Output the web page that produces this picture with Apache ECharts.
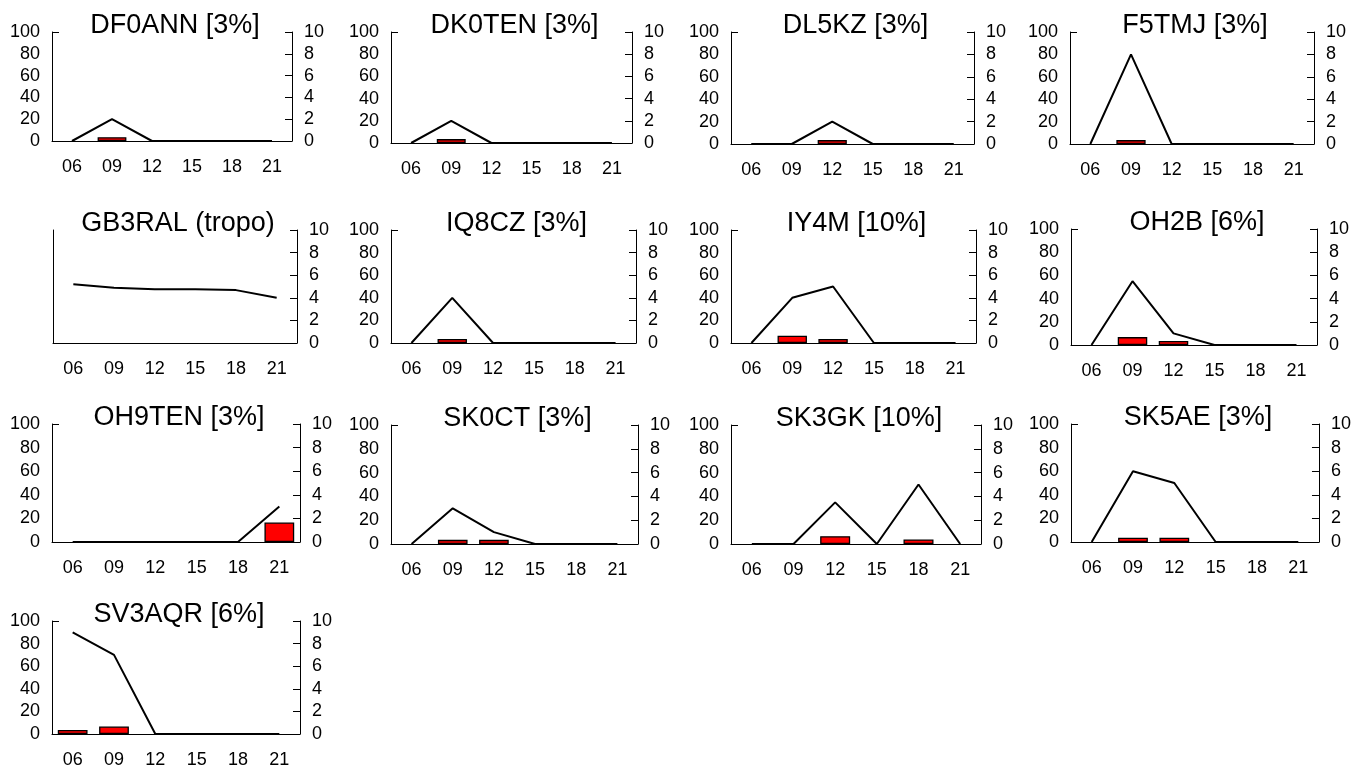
<!DOCTYPE html>
<html>
<head>
<meta charset="utf-8">
<script src="https://cdn.jsdelivr.net/npm/echarts@6/dist/echarts.min.js"></script>
<style>
html,body{margin:0;padding:0;background:#fff;}
#chart{width:1354px;height:769px;}
</style>
</head>
<body>
<div id="chart"></div>
<script>
// ---- data ----
const hours = ['06', '09', '12', '15', '18', '21'];
const leftTicks = [0, 20, 40, 60, 80, 100];
const rightTicks = [0, 2, 4, 6, 8, 10];

const titles = ['DF0ANN [3%]', 'DK0TEN [3%]', 'DL5KZ [3%]', 'F5TMJ [3%]',
  'GB3RAL (tropo)', 'IQ8CZ [3%]', 'IY4M [10%]', 'OH2B [6%]',
  'OH9TEN [3%]', 'SK0CT [3%]', 'SK3GK [10%]', 'SK5AE [3%]', 'SV3AQR [6%]'];

// line values (left axis 0-100; GB3RAL uses the right axis 0-10)
const DF0ANN_line = [0, 20, 0, 0, 0, 0];
const DK0TEN_line = [0, 20, 0, 0, 0, 0];
const DL5KZ_line  = [0, 0, 20, 0, 0, 0];
const F5TMJ_line  = [0, 80, 0, 0, 0, 0];
const GB3RAL_line = [5.2, 4.9, 4.75, 4.76, 4.68, 4.0];
const IQ8CZ_line  = [0, 40, 0, 0, 0, 0];
const IY4M_line   = [0, 40, 50, 0, 0, 0];
const OH2B_line   = [0, 55, 10, 0, 0, 0];
const OH9TEN_line = [0, 0, 0, 0, 0, 30];
const SK0CT_line  = [0, 30, 10, 0, 0, 0];
const SK3GK_line  = [0, 0, 35, 0, 50, 0];
const SK5AE_line  = [0, 60, 50, 0, 0, 0];
const SV3AQR_line = [90, 70, 0, 0, 0, 0];

// bar values (right axis 0-10)
const DF0ANN_bar = [null, 0.35, null, null, null, null];
const DK0TEN_bar = [null, 0.35, null, null, null, null];
const DL5KZ_bar  = [null, null, 0.35, null, null, null];
const F5TMJ_bar  = [null, 0.35, null, null, null, null];
const GB3RAL_bar = [null, null, null, null, null, null];
const IQ8CZ_bar  = [null, 0.35, null, null, null, null];
const IY4M_bar   = [null, 0.65, 0.35, null, null, null];
const OH2B_bar   = [null, 0.68, 0.35, null, null, null];
const OH9TEN_bar = [null, null, null, null, null, 1.65];
const SK0CT_bar  = [null, 0.35, 0.35, null, null, null];
const SK3GK_bar  = [null, null, 0.66, null, 0.38, null];
const SK5AE_bar  = [null, 0.36, 0.36, null, null, null];
const SV3AQR_bar = [0.36, 0.66, null, null, null, null];

const lines = [DF0ANN_line, DK0TEN_line, DL5KZ_line, F5TMJ_line, GB3RAL_line, IQ8CZ_line,
  IY4M_line, OH2B_line, OH9TEN_line, SK0CT_line, SK3GK_line, SK5AE_line, SV3AQR_line];
const bars = [DF0ANN_bar, DK0TEN_bar, DL5KZ_bar, F5TMJ_bar, GB3RAL_bar, IQ8CZ_bar,
  IY4M_bar, OH2B_bar, OH9TEN_bar, SK0CT_bar, SK3GK_bar, SK5AE_bar, SV3AQR_bar];
const lineOnRight = [false, false, false, false, true, false, false, false, false, false, false, false, false];

// ---- layout (plot rectangles: left, top, width, height) ----
const layout = [
  [52, 32, 240, 109], [391, 32, 241, 111], [731, 32, 243, 112], [1070, 32, 244, 112],
  [53, 230, 244, 113], [391, 230, 245, 113], [731, 230, 245, 113], [1071, 229, 246, 116],
  [52, 424, 248, 118], [391, 425, 247, 119], [731, 425, 250, 119], [1071, 424, 248, 118],
  [52, 621, 248, 116]
];

const FONT = "'Liberation Sans', Arial, sans-serif";
const grid = [], xAxis = [], yAxis = [], title = [], series = [];

layout.forEach((r, i) => {
  const [L, T, W, H] = r;
  grid.push({ left: L, top: T, width: W, height: H, containLabel: false });
  title.push({
    text: titles[i], left: L + W / 2 + 3, top: T - 20, textAlign: 'center', padding: 0,
    textStyle: { fontFamily: FONT, fontSize: 27, fontWeight: 'normal', color: '#000' }
  });
  xAxis.push({
    type: 'category', gridIndex: i, data: hours, boundaryGap: true,
    axisLine: { show: true, onZero: false, lineStyle: { color: '#000', width: 1 } },
    axisTick: { show: false },
    axisLabel: { fontFamily: FONT, fontSize: 18, color: '#000', margin: 17 },
    splitLine: { show: false }
  });
  const noLeftLabels = lineOnRight[i];
  yAxis.push({
    type: 'value', gridIndex: i, position: 'left', min: leftTicks[0], max: leftTicks[leftTicks.length - 1], interval: 20,
    axisLine: { show: true, lineStyle: { color: '#000', width: 1 } },
    axisTick: { show: !noLeftLabels, inside: true, length: 7, customValues: [100], lineStyle: { color: '#000' } },
    axisLabel: { show: !noLeftLabels, fontFamily: FONT, fontSize: 18, color: '#000', margin: 12 },
    splitLine: { show: false }
  });
  yAxis.push({
    type: 'value', gridIndex: i, position: 'right', min: rightTicks[0], max: rightTicks[rightTicks.length - 1], interval: 2,
    axisLine: { show: true, lineStyle: { color: '#000', width: 1 } },
    axisTick: { show: true, inside: true, length: 7, lineStyle: { color: '#000' } },
    axisLabel: { fontFamily: FONT, fontSize: 18, color: '#000', margin: 12 },
    splitLine: { show: false }
  });
  series.push({
    type: 'bar', xAxisIndex: i, yAxisIndex: 2 * i + 1, data: bars[i], barWidth: '72%', z: 2,
    itemStyle: { color: '#ff0000', borderColor: '#000', borderWidth: 1.3 },
    silent: true
  });
  series.push({
    type: 'line', xAxisIndex: i, yAxisIndex: lineOnRight[i] ? 2 * i + 1 : 2 * i, data: lines[i],
    symbol: 'none', z: 3, lineStyle: { color: '#000', width: 2 }, silent: true
  });
});

const chart = echarts.init(document.getElementById('chart'));
chart.setOption({ animation: false, backgroundColor: '#fff', title, grid, xAxis, yAxis, series });
</script>
</body>
</html>
